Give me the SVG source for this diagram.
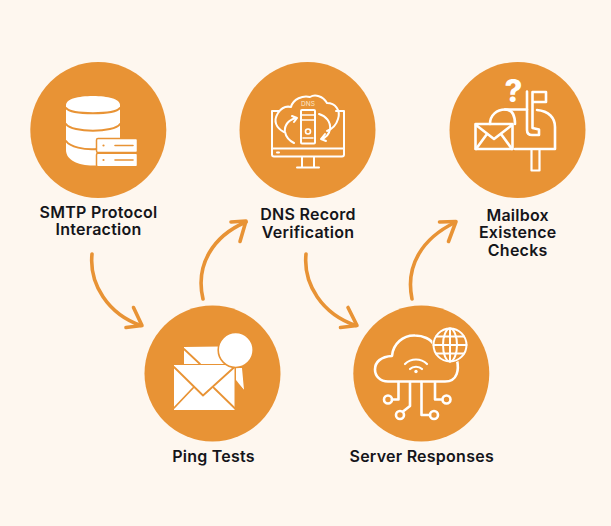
<svg xmlns="http://www.w3.org/2000/svg" width="611" height="526" viewBox="0 0 611 526">
<style>
.c{fill:#e89335}
.t{font-family:Inter,"Liberation Sans",sans-serif;font-weight:600;font-size:16px;letter-spacing:.25px;fill:#15151a;text-anchor:middle}
.a{fill:none;stroke:#e89335;stroke-width:3.6;stroke-linecap:round;stroke-linejoin:round}
.l{fill:none;stroke:#fff;stroke-width:2;stroke-linecap:round;stroke-linejoin:round}
.h{fill:none;stroke:#fff;stroke-width:2.6;stroke-linecap:round;stroke-linejoin:round}
.g{fill:none;stroke:#e89335;stroke-width:1.6;stroke-linecap:round;stroke-linejoin:round}
.w{fill:#fff}
</style>
<rect width="611" height="526" fill="#fef7ef"/>
<g id="connectors">
<path class="a" d="M92 254C89 284 108 314 141 325.500"/><path class="a" d="M133.500 307.500L142 325.500L126 327.500"/>
<path class="a" d="M203 299C195 265 213 236 246 222"/><path class="a" d="M231 222L246 221L240 241.500"/>
<path class="a" d="M306 254C303 284 322 314 356 325.500"/><path class="a" d="M348 307.500L357 325.500L340.500 327.500"/>
<path class="a" d="M412 299C405 265 423 238 455 222.500"/><path class="a" d="M439.500 222L456 221.500L448.500 241.500"/>
</g>
<g id="node-smtp">
<circle class="c" cx="98.300" cy="130" r="68"/>
<path class="w" d="M66 105C66 99 78 96 93 96S120 99 120 105V150C120 160 108 165.500 93 165.500S66 160 66 150Z"/>
<path class="g" style="stroke-width:2" d="M66 108C72 115 114 115 120 108M66 124C72 133 114 133 120 124M66 141C70 147 84 150 97 149"/>
<rect class="w" x="96.500" y="138.500" width="41" height="14" rx="1.500" stroke="#e89335" stroke-width="1.500"/>
<rect class="w" x="96.500" y="153.300" width="41" height="13.500" rx="1.500" stroke="#e89335" stroke-width="1.500"/>
<path class="g" d="M115 145.500H133M115 160H133"/>
<circle class="c" cx="103.500" cy="145.500" r="1.100"/><circle class="c" cx="103.500" cy="160" r="1.100"/>
<text class="t" x="98.500" y="217.500">SMTP Protocol</text>
<text class="t" x="98.500" y="235">Interaction</text>
</g>
<g id="node-dns">
<circle class="c" cx="307.500" cy="130" r="68"/>
<path class="l" d="M279 111H272V154.500Q272 156.500 274 156.500H342Q344 156.500 344 154.500V111H336"/>
<path class="l" d="M272 148.500H344M277 152.500H279M302 157V167.500M314 157V167.500M297 167.500H319"/>
<path class="l" d="M284 132C276 128 273 121 278 113C282 107 287 106 291 107C293 99 303 95 310 97C315 94 323 96 327 103C335 103 341 110 338 119C336 126 332 129 327 131"/>
<rect class="l" x="301" y="110" width="14" height="33.500" rx="1"/>
<path class="g" style="stroke:#fff" d="M301 115H315M301 120H315M303 138H313"/>
<circle class="l" cx="308" cy="131.500" r="2.500" style="stroke-width:1.600"/>
<path class="l" d="M297 118C289 119 284 125 285 132C286 137 290 141 294 143M292 116L297 118L294 122"/>
<path class="l" d="M319 114C326 116 331 122 330 129C329 135 325 138 321 139M325 134L321 139L326 141"/>
<text x="308" y="106" font-family="Inter,'Liberation Sans',sans-serif" font-size="6.500" fill="#fde7c9" text-anchor="middle">DNS</text>
<text class="t" x="308" y="220">DNS Record</text>
<text class="t" x="308" y="238">Verification</text>
</g>
<g id="node-mailbox">
<circle class="c" cx="517.500" cy="130" r="68"/>
<path class="h" d="M490 124C490 115 497 109.500 505 109.500C514 109.500 515 118 515 124"/>
<path class="h" d="M505 109.500H527M537 110C549 111 555 118 555 127V149H515"/>
<rect class="h" x="475.500" y="124" width="37" height="25"/>
<path class="h" d="M476 125L494 139L512 125M476 149L487 134M512 149L501 134"/>
<path class="h" d="M527 91.500V130C527 134 529 135 532 135H539V129.500L532.500 128V92M532.500 92H546L546 102H533"/>
<path class="h" d="M531.500 150V170.500H539.500V150" style="stroke-width:2.200"/>
<text x="513.500" y="101.500" font-family="Inter,'Liberation Sans',sans-serif" font-weight="800" font-size="31" fill="#fff" text-anchor="middle">?</text>
<text class="t" x="517.700" y="220.500">Mailbox</text>
<text class="t" x="517.700" y="238">Existence</text>
<text class="t" x="517.700" y="255.500">Checks</text>
</g>
<g id="node-ping">
<circle class="c" cx="212.500" cy="373.500" r="68"/>
<path class="w" d="M184 347L220 346.500L226 364H184Z"/>
<path class="g" style="stroke-width:1.800" d="M184 349L200 364"/>
<path class="w" d="M236 368H242L244 390L236 380Z"/>
<path class="g" d="M237 384L243 390"/>
<path class="w" d="M174 365H234.500V410H174Z"/>
<path class="g" style="stroke-width:1.800" d="M174 367L203 395.500L234.500 367M174 408L193 388M234.500 408L214 388"/>
<circle class="w" cx="235.700" cy="350" r="17.500" stroke="#e89335" stroke-width="1.600"/>
<text class="t" x="213.500" y="462.300">Ping Tests</text>
</g>
<g id="node-server">
<circle class="c" cx="421.300" cy="373.500" r="68"/>
<path class="h" d="M388 381.500C380 381.500 375 376 375 369.500C375 362 381 356.500 392 356C393 344 403 335 415 335.500C423 335.500 431 339 434 345M457 360C459 369 458 381.500 445 381.500H388"/>
<circle class="c" cx="450" cy="345" r="18"/>
<g class="l" style="stroke-width:2"><circle cx="450" cy="345" r="16.500"/><ellipse cx="450" cy="345" rx="7" ry="16.500"/><path d="M450 328.500V361.500M433.500 345H466.500M436 336.500H464M436 353.500H464"/></g>
<path class="h" style="stroke-width:2.200" d="M405 364C411 358 421 358 427 364M410 369C413 366 419 366 422 369"/>
<circle class="w" cx="416" cy="371.500" r="1.700"/>
<g class="h">
<path d="M398.500 382V399.500H392M410 382V406L403 411.500M421.500 382V415H430M435 382V399.500H442"/>
<circle cx="388" cy="399.500" r="4"/><circle cx="400" cy="415" r="4"/><circle cx="434" cy="415" r="4"/><circle cx="446.500" cy="399.500" r="4"/>
</g>
<text class="t" x="421.700" y="462">Server Responses</text>
</g>
</svg>
